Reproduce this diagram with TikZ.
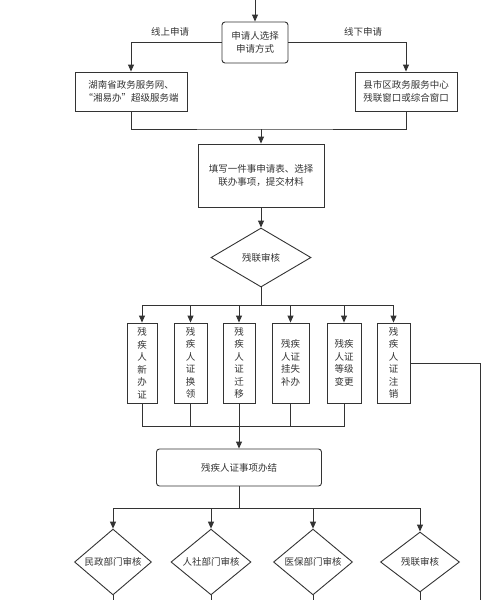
\documentclass[tikz,border=0pt]{standalone}
\usepackage{fontspec}
\newfontfamily\cjk{Noto Sans CJK SC}
\usetikzlibrary{shapes.geometric,arrows.meta}

\begin{document}
\begin{tikzpicture}[x=1pt,y=-1pt,
  font=\cjk\fontsize{9.5}{12.5}\selectfont,text=black!80,
  ln/.style={draw=black!80,line width=0.9pt},
  arr/.style={ln,-{Triangle[length=7pt,width=6pt]}},
  box/.style={ln,align=center,inner sep=0pt},
  rbox/.style={box,rounded corners=3pt},
  dia/.style={ln,diamond,align=center,inner sep=0pt}]
\useasboundingbox (0,0) rectangle (500,600);
\coordinate (s0) at (255,0);
\node[rbox,minimum width=66pt,minimum height=41pt] (sel) at (255,42.5) {申请人选择\\申请方式};
\node[box,minimum width=112pt,minimum height=39pt] (web) at (131,91.5) {湖南省政务服务网、\\“湘易办”超级服务端};
\node[box,minimum width=102pt,minimum height=39pt] (hall) at (406,91.5) {县市区政务服务中心\\残联窗口或综合窗口};
\node (lon) at (170,32) {线上申请};
\node (loff) at (363,32) {线下申请};
\coordinate (j1) at (261,129);
\node[box,minimum width=126pt,minimum height=63pt] (form) at (261,175.5) {填写一件事申请表、选择\\联办事项，提交材料};
\node[dia,minimum width=100pt,minimum height=59pt] (chk) at (261,257.5) {残联审核};
\coordinate (j2) at (261,305);
\node[box,minimum width=30pt,minimum height=80pt] (c1) at (142,363) {残\\疾\\人\\新\\办\\证};
\node[box,minimum width=33pt,minimum height=80pt] (c2) at (190.5,363) {残\\疾\\人\\证\\换\\领};
\node[box,minimum width=32pt,minimum height=80pt] (c3) at (239,363) {残\\疾\\人\\证\\迁\\移};
\node[box,minimum width=37pt,minimum height=80pt] (c4) at (290.5,363) {残疾\\人证\\挂失\\补办};
\node[box,minimum width=34pt,minimum height=80pt] (c5) at (344,363) {残疾\\人证\\等级\\变更};
\node[box,minimum width=33pt,minimum height=80pt] (c6) at (393.5,363) {残\\疾\\人\\证\\注\\销};
\coordinate (r1) at (480,600);
\coordinate (j3) at (239,426);
\node[rbox,minimum width=165pt,minimum height=37pt] (done) at (239,467.5) {残疾人证事项办结};
\coordinate (j4) at (239,508);
\node[dia,minimum width=77pt,minimum height=60pt] (d1) at (113,562) {民政部门审核};
\node[dia,minimum width=80pt,minimum height=60pt] (d2) at (211,562) {人社部门审核};
\node[dia,minimum width=79pt,minimum height=60pt] (d3) at (313,562) {医保部门审核};
\node[dia,minimum width=79pt,minimum height=60pt] (d4) at (420,562) {残联审核};
\coordinate (z1) at (113,600);
\coordinate (z2) at (211,600);
\coordinate (z3) at (313,600);
\coordinate (z4) at (420,600);
\draw[arr] (s0) -- (sel);
\draw[arr] (sel.west) -| (web.north);
\draw[arr] (sel.east) -| (hall.north);
\draw[ln] (web.south) |- (j1) -| (hall.south);
\draw[arr] (j1) -- (form);
\draw[arr] (form) -- (chk);
\draw[ln] (chk.south) -- (j2);
\draw[arr] (j2) -| (c1.north);
\draw[arr] (j2) -| (c2.north);
\draw[arr] (j2) -| (c3.north);
\draw[arr] (j2) -| (c4.north);
\draw[arr] (j2) -| (c5.north);
\draw[arr] (j2) -| (c6.north);
\draw[ln] (c6.east) -| (r1);
\draw[ln] (c1.south) |- (j3);
\draw[ln] (c2.south) |- (j3);
\draw[ln] (c3.south) |- (j3);
\draw[ln] (c4.south) |- (j3);
\draw[ln] (c5.south) |- (j3);
\draw[arr] (j3) -- (done);
\draw[ln] (done.south) -- (j4);
\draw[arr] (j4) -| (d1.north);
\draw[arr] (j4) -| (d2.north);
\draw[arr] (j4) -| (d3.north);
\draw[arr] (j4) -| (d4.north);
\draw[ln] (d1.south) -- (z1);
\draw[ln] (d2.south) -- (z2);
\draw[ln] (d3.south) -- (z3);
\draw[ln] (d4.south) -- (z4);
\end{tikzpicture}
\end{document}
